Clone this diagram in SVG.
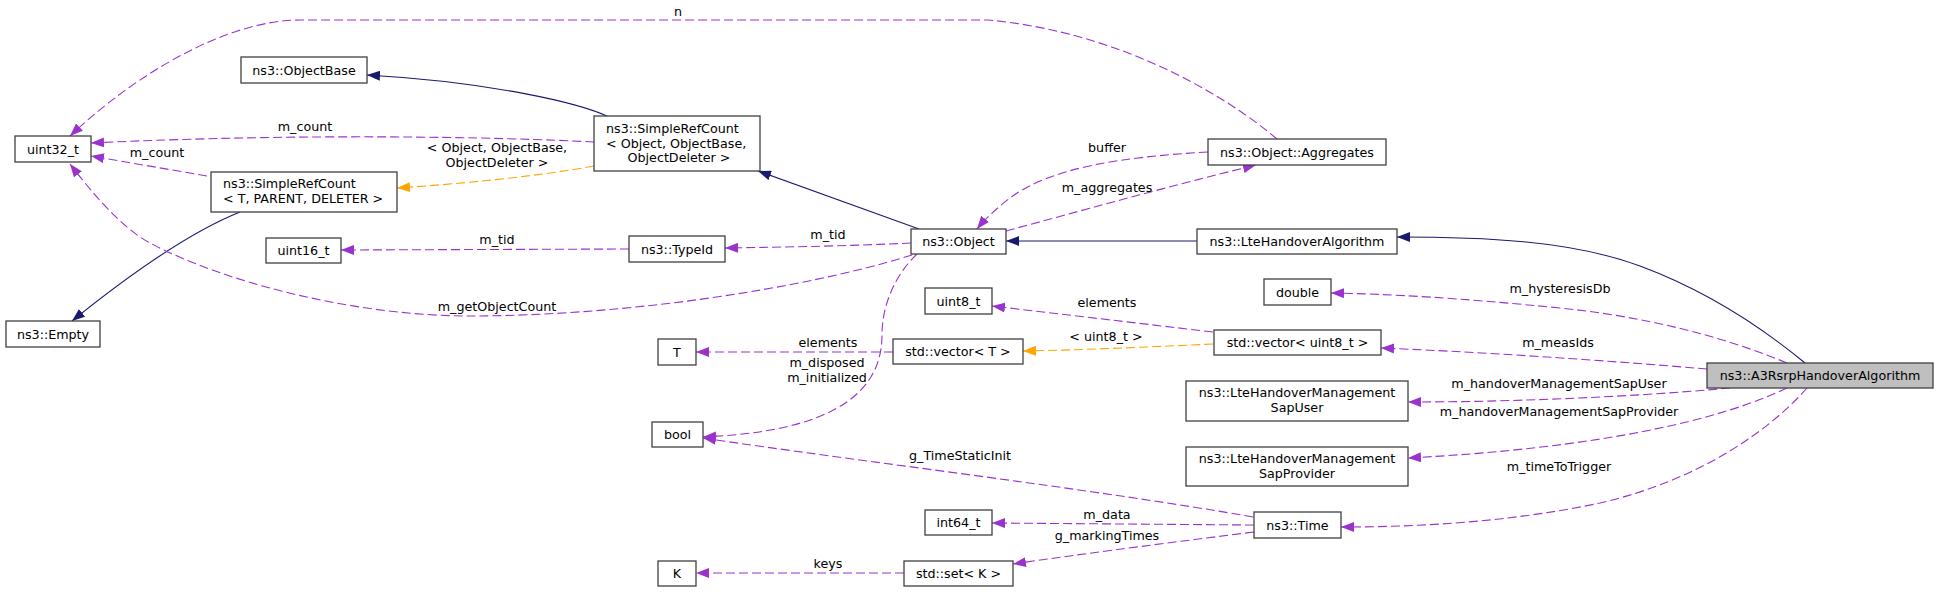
<svg xmlns="http://www.w3.org/2000/svg" width="1939" height="592" viewBox="0 0 1939 592">
<style>
text{font-family:"DejaVu Sans","Liberation Sans",sans-serif;font-size:12.7px;fill:#000}
.b{fill:#fff;stroke:#404040;stroke-width:1.3}
.m{text-anchor:middle}
.s{fill:none;stroke:#191970;stroke-width:1.1}
.u{fill:none;stroke:#9a32cd;stroke-width:1.1;stroke-dasharray:9,4}
.o{fill:none;stroke:#ffa500;stroke-width:1.1;stroke-dasharray:9,4}
</style>
<defs>
<marker id="an" markerUnits="userSpaceOnUse" markerWidth="13" markerHeight="10" viewBox="0 0 13 10" refX="13" refY="5" orient="auto"><path d="M0,0 L13,5 L0,10 z" fill="#191970"/></marker>
<marker id="ap" markerUnits="userSpaceOnUse" markerWidth="13" markerHeight="10" viewBox="0 0 13 10" refX="13" refY="5" orient="auto"><path d="M0,0 L13,5 L0,10 z" fill="#9a32cd"/></marker>
<marker id="ao" markerUnits="userSpaceOnUse" markerWidth="13" markerHeight="10" viewBox="0 0 13 10" refX="13" refY="5" orient="auto"><path d="M0,0 L13,5 L0,10 z" fill="#ffa500"/></marker>
</defs>
<rect width="1939" height="592" fill="#fff"/>
<g id="connectors">
<path class="s" marker-end="url(#an)" d="M1805,363 C1765,330 1710,292 1640,266 C1570,240 1480,237 1397,237"/>
<path class="s" marker-end="url(#an)" d="M1197,241 L1006,241"/>
<path class="s" marker-end="url(#an)" d="M919,229 L758,171"/>
<path class="s" marker-end="url(#an)" d="M609,117 C580,103 490,82 367,75"/>
<path class="s" marker-end="url(#an)" d="M240,212 C200,228 150,258 72,321"/>
<path class="o" marker-end="url(#ao)" d="M594,166 C540,176 460,184 397,188"/>
<text class="m" x="497" y="152">&lt; Object, ObjectBase,</text>
<text class="m" x="497" y="167">ObjectDeleter &gt;</text>
<path class="u" marker-end="url(#ap)" d="M594,142 C500,137 300,133 91,143"/>
<text class="m" x="305" y="131">m_count</text>
<path class="u" marker-end="url(#ap)" d="M207,176 L91,156"/>
<text class="m" x="157" y="157">m_count</text>
<path class="u" marker-end="url(#ap)" d="M1277,139 C1225,95 1120,32 988,20 L300,20 C230,20 140,70 70,136"/>
<text class="m" x="678" y="16">n</text>
<path class="u" marker-end="url(#ap)" d="M912,255 C800,290 620,316 470,316 C360,316 230,285 150,243 C120,227 90,190 70,164"/>
<text class="m" x="497" y="311">m_getObjectCount</text>
<path class="u" marker-end="url(#ap)" d="M911,243 C850,246 790,247 725,248"/>
<text class="m" x="828" y="239">m_tid</text>
<path class="u" marker-end="url(#ap)" d="M629,249 L341,250"/>
<text class="m" x="497" y="244">m_tid</text>
<path class="u" marker-end="url(#ap)" d="M1208,152 C1120,157 1050,168 1010,198 C997,208 985,219 977,229"/>
<text class="m" x="1107" y="152">buffer</text>
<path class="u" marker-end="url(#ap)" d="M1006,231 C1080,211 1170,186 1256,165"/>
<text class="m" x="1107" y="192">m_aggregates</text>
<path class="u" marker-end="url(#ap)" d="M917,254 C895,275 882,305 882,335 C882,400 820,432 703,437"/>
<text class="m" x="827" y="367">m_disposed</text>
<text class="m" x="827" y="382">m_initialized</text>
<path class="u" marker-end="url(#ap)" d="M893,352 L696,352"/>
<text class="m" x="828" y="347">elements</text>
<path class="o" marker-end="url(#ao)" d="M1213,344 C1150,347 1080,350 1023,351"/>
<text class="m" x="1106" y="341">&lt; uint8_t &gt;</text>
<path class="u" marker-end="url(#ap)" d="M1213,332 L992,306"/>
<text class="m" x="1107" y="307">elements</text>
<path class="u" marker-end="url(#ap)" d="M1253,517 C1100,490 850,460 703,438"/>
<text class="m" x="960" y="460">g_TimeStaticInit</text>
<path class="u" marker-end="url(#ap)" d="M1254,525 L992,523"/>
<text class="m" x="1107" y="519">m_data</text>
<path class="u" marker-end="url(#ap)" d="M1254,532 C1150,545 1060,557 1013,564"/>
<text class="m" x="1107" y="540">g_markingTimes</text>
<path class="u" marker-end="url(#ap)" d="M904,573 L696,573"/>
<text class="m" x="828" y="568">keys</text>
<path class="u" marker-end="url(#ap)" d="M1787,363 C1720,335 1640,316 1560,308 C1460,298 1390,294 1331,293"/>
<text class="m" x="1560" y="293">m_hysteresisDb</text>
<path class="u" marker-end="url(#ap)" d="M1707,369 C1600,360 1480,352 1381,348"/>
<text class="m" x="1558" y="347">m_measIds</text>
<path class="u" marker-end="url(#ap)" d="M1730,388 C1620,398 1500,402 1408,402"/>
<text class="m" x="1559" y="388">m_handoverManagementSapUser</text>
<path class="u" marker-end="url(#ap)" d="M1787,388 C1720,420 1600,448 1408,458"/>
<text class="m" x="1559" y="416">m_handoverManagementSapProvider</text>
<path class="u" marker-end="url(#ap)" d="M1807,388 C1770,430 1700,480 1600,503 C1510,522 1420,527 1341,527"/>
<text class="m" x="1559" y="471">m_timeToTrigger</text>
</g>
<g id="A3RsrpHandoverAlgorithm"><rect x="1707" y="363" width="226" height="25" fill="#bfbfbf" stroke="#404040" stroke-width="1.3"/><text class="m" x="1820" y="380">ns3::A3RsrpHandoverAlgorithm</text></g>
<g id="LteHandoverAlgorithm"><rect class="b" x="1197" y="229" width="200" height="25"/><text class="m" x="1297" y="246">ns3::LteHandoverAlgorithm</text></g>
<g id="Object"><rect class="b" x="911" y="229" width="95" height="25"/><text class="m" x="958.5" y="246">ns3::Object</text></g>
<g id="SimpleRefCountObject"><rect class="b" x="594" y="116" width="166" height="55"/><text x="606" y="133">ns3::SimpleRefCount</text><text x="606" y="147.5">&lt; Object, ObjectBase,</text><text class="m" x="679" y="162">ObjectDeleter &gt;</text></g>
<g id="ObjectBase"><rect class="b" x="241" y="57" width="126" height="26"/><text class="m" x="304" y="74.5">ns3::ObjectBase</text></g>
<g id="SimpleRefCountT"><rect class="b" x="211" y="172" width="186" height="40"/><text x="223" y="188">ns3::SimpleRefCount</text><text x="223" y="203">&lt; T, PARENT, DELETER &gt;</text></g>
<g id="Empty"><rect class="b" x="6" y="321" width="94" height="26"/><text class="m" x="53" y="338.5">ns3::Empty</text></g>
<g id="uint32_t"><rect class="b" x="15" y="136" width="76" height="26"/><text class="m" x="53" y="153.5">uint32_t</text></g>
<g id="ObjectAggregates"><rect class="b" x="1208" y="139" width="178" height="26"/><text class="m" x="1297" y="156.5">ns3::Object::Aggregates</text></g>
<g id="TypeId"><rect class="b" x="629" y="236" width="96" height="26"/><text class="m" x="677" y="253.5">ns3::TypeId</text></g>
<g id="uint16_t"><rect class="b" x="266" y="238" width="75" height="25"/><text class="m" x="303.5" y="255">uint16_t</text></g>
<g id="bool"><rect class="b" x="652" y="422" width="51" height="25"/><text class="m" x="677.5" y="439">bool</text></g>
<g id="double"><rect class="b" x="1264" y="279" width="67" height="26"/><text class="m" x="1297.5" y="296.5">double</text></g>
<g id="vector_uint8"><rect class="b" x="1214" y="330" width="167" height="25"/><text class="m" x="1297.5" y="347">std::vector&lt; uint8_t &gt;</text></g>
<g id="uint8_t"><rect class="b" x="925" y="288" width="67" height="26"/><text class="m" x="958.5" y="305.5">uint8_t</text></g>
<g id="vector_T"><rect class="b" x="893" y="339" width="130" height="25"/><text class="m" x="958" y="356">std::vector&lt; T &gt;</text></g>
<g id="T"><rect class="b" x="658" y="339" width="38" height="26"/><text class="m" x="677" y="356.5">T</text></g>
<g id="SapUser"><rect class="b" x="1186" y="381" width="222" height="40"/><text class="m" x="1297" y="397">ns3::LteHandoverManagement</text><text class="m" x="1297" y="412">SapUser</text></g>
<g id="SapProvider"><rect class="b" x="1186" y="447" width="222" height="39"/><text class="m" x="1297" y="463">ns3::LteHandoverManagement</text><text class="m" x="1297" y="477.5">SapProvider</text></g>
<g id="Time"><rect class="b" x="1254" y="512" width="87" height="26"/><text class="m" x="1297.5" y="529.5">ns3::Time</text></g>
<g id="int64_t"><rect class="b" x="925" y="510" width="67" height="25"/><text class="m" x="958.5" y="527">int64_t</text></g>
<g id="set_K"><rect class="b" x="904" y="561" width="109" height="25"/><text class="m" x="958.5" y="578">std::set&lt; K &gt;</text></g>
<g id="K"><rect class="b" x="658" y="561" width="38" height="25"/><text class="m" x="677" y="578">K</text></g>
</svg>
